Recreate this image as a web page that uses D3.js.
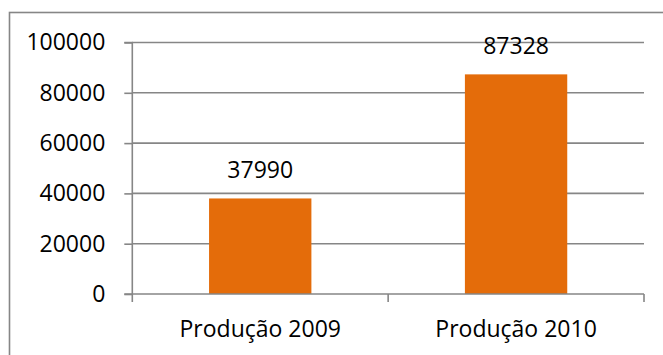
<!DOCTYPE html>
<html>
<head>
<meta charset="utf-8">
<script src="https://cdn.jsdelivr.net/npm/d3@7"></script>
<style>
  html, body { margin: 0; padding: 0; background: #fff; }
  svg { display: block; }
  text { font-family: "Open Sans", "Noto Sans", sans-serif; fill: #000; }
</style>
</head>
<body>
<svg id="chart" width="663" height="355"></svg>
<script>
// Production totals per year
const categories = ["Produção 2009", "Produção 2010"];
const values = [37990, 87328];
const yTicks = [0, 20000, 40000, 60000, 80000, 100000];

const svg = d3.select("#chart");
const W = 663, H = 355;
const plot = { left: 132.3, right: 644, top: 42.5, bottom: 294 };
const axisColor = "#868686";
const barColor = "#E46C0A";
const fontSize = 23;

// Outer chart frame
svg.append("rect")
  .attr("x", 9.5).attr("y", 12.5)
  .attr("width", W + 20).attr("height", H + 20)
  .attr("fill", "none").attr("stroke", axisColor).attr("stroke-width", 1.6);

const x = d3.scaleBand()
  .domain(categories)
  .range([plot.left, plot.right])
  .paddingInner(0.6)
  .paddingOuter(0.3);

const y = d3.scaleLinear()
  .domain([0, 100000])
  .range([plot.bottom, plot.top]);

// Horizontal gridlines
svg.append("g")
  .selectAll("line")
  .data(yTicks.filter(d => d > 0))
  .join("line")
  .attr("x1", plot.left).attr("x2", plot.right)
  .attr("y1", d => y(d)).attr("y2", d => y(d))
  .attr("stroke", axisColor).attr("stroke-width", 1.6);

// Bars
svg.append("g")
  .selectAll("rect")
  .data(values)
  .join("rect")
  .attr("x", (d, i) => x(categories[i]))
  .attr("width", x.bandwidth())
  .attr("y", d => y(d))
  .attr("height", d => y(0) - y(d))
  .attr("fill", barColor);

// Value labels above bars
svg.append("g")
  .selectAll("text")
  .data(values)
  .join("text")
  .attr("x", (d, i) => x(categories[i]) + x.bandwidth() / 2)
  .attr("y", d => y(d) - 20)
  .attr("text-anchor", "middle")
  .attr("font-size", fontSize)
  .text(d => d);

// Y axis
const yAxis = svg.append("g")
  .attr("transform", `translate(${plot.left},0)`)
  .call(d3.axisLeft(y).tickValues(yTicks).tickSize(8).tickPadding(19).tickFormat(d3.format("d")));
yAxis.selectAll("path, line").attr("stroke", axisColor).attr("stroke-width", 1.6);
yAxis.select(".domain").attr("d", `M-8,${plot.top}H0V${plot.bottom}`);
yAxis.selectAll("text")
  .attr("font-family", "'Open Sans', 'Noto Sans', sans-serif")
  .attr("font-size", fontSize).attr("fill", "#000");

// X axis with category boundaries as ticks
const xAxis = svg.append("g")
  .attr("transform", `translate(0,${plot.bottom})`);
xAxis.append("line")
  .attr("x1", plot.left - 8).attr("x2", plot.right)
  .attr("stroke", axisColor).attr("stroke-width", 1.6);
const boundaries = [plot.left, (x(categories[0]) + x(categories[1]) + x.bandwidth()) / 2, plot.right];
xAxis.selectAll("line.tick")
  .data(boundaries)
  .join("line")
  .attr("class", "tick")
  .attr("x1", d => d).attr("x2", d => d)
  .attr("y1", 0).attr("y2", 8)
  .attr("stroke", axisColor).attr("stroke-width", 1.6);
xAxis.selectAll("text")
  .data(categories)
  .join("text")
  .attr("x", d => x(d) + x.bandwidth() / 2)
  .attr("y", 42.5)
  .attr("text-anchor", "middle")
  .attr("font-size", fontSize)
  .text(d => d);
</script>
</body>
</html>
